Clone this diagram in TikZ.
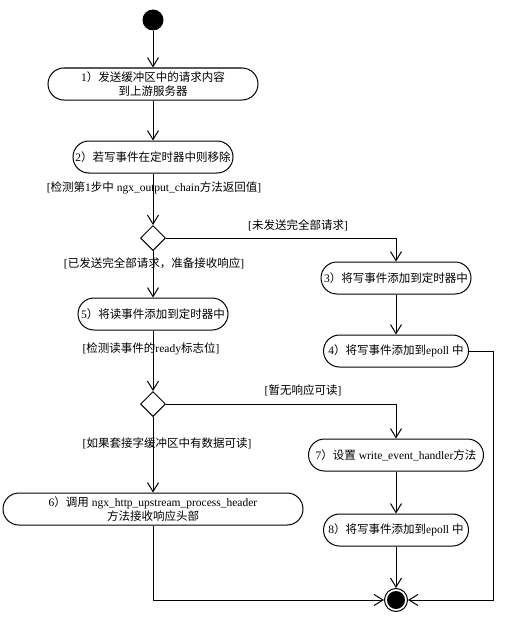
\documentclass[tikz,border=0pt]{standalone}
\usepackage{fontspec}
\setmainfont{Liberation Serif}
\newfontfamily\cjk{Noto Sans CJK SC}
\newcommand{\zh}[1]{{\cjk #1}}
\usetikzlibrary{arrows.meta,shapes.geometric}
\begin{document}
\begin{tikzpicture}[x=1pt,y=-1pt,
  txt/.style={font=\fontsize{11.5}{14}\selectfont},
  act/.style={txt, draw, line width=1pt, rounded corners=16pt, minimum height=32pt, align=center, inner sep=2pt},
  lbl/.style={txt, inner sep=0pt},
  dec/.style={draw, diamond, line width=1pt, minimum size=25pt, inner sep=0pt, shape aspect=1},
  arr/.style={-{Straight Barb[length=9pt,width=11pt,line width=1pt]}, line width=1pt},
  ln/.style={line width=1pt}
]
\useasboundingbox (0,0) rectangle (515,618);
\node[circle, fill=black, minimum size=21pt, inner sep=0pt] (s) at (153,20) {};
\node[act, minimum width=210pt] (a1) at (153,84) {1\zh{）发送缓冲区中的请求内容}\\\zh{到上游服务器}};
\node[act, minimum width=160pt] (a2) at (153,157) {2\zh{）若写事件在定时器中则移除}};
\node[dec] (d1) at (153,238) {};
\node[act, minimum width=150pt] (a3) at (396,278) {3\zh{）将写事件添加到定时器中}};
\node[act, minimum width=150pt] (a5) at (153,314) {5\zh{）将读事件添加到定时器中}};
\node[act, minimum width=145pt] (a4) at (396,351) {4\zh{）将写事件添加到}epoll \zh{中}};
\node[dec] (d2) at (153,404) {};
\node[act, minimum width=175pt] (a7) at (396,455) {7\zh{）设置} write\_event\_handler\zh{方法}};
\node[act, minimum width=300pt] (a6) at (153,509) {6\zh{）调用} ngx\_http\_upstream\_process\_header\\\zh{方法接收响应头部}};
\node[act, minimum width=145pt] (a8) at (396,530) {8\zh{）将写事件添加到}epoll \zh{中}};
\node[circle, draw, line width=1pt, fill=white, minimum size=23pt, inner sep=0pt] (e) at (396,600) {};
\node[circle, fill=black, minimum size=18pt, inner sep=0pt] (ein) at (e.center) {};
\coordinate (r4) at (493,351);

\node[lbl] (l1) at (154,188) {[\zh{检测第}1\zh{步中} ngx\_output\_chain\zh{方法返回值}]};
\node[lbl] (l2) at (298,225) {[\zh{未发送完全部请求}]};
\node[lbl] (l3) at (154,263) {[\zh{已发送完全部请求，准备接收响应}]};
\node[lbl] (l4) at (151,349) {[\zh{检测读事件的}ready\zh{标志位}]};
\node[lbl] (l5) at (303,390) {[\zh{暂无响应可读}]};
\node[lbl] (l6) at (167,443) {[\zh{如果套接字缓冲区中有数据可读}]};

\draw[arr] (s) -- (a1);
\draw[arr] (a1) -- (a2);
\draw[arr] (a2) -- (d1);
\draw[arr] (d1.east) -| (a3.north);
\draw[arr] (d1) -- (a5);
\draw[arr] (a3) -- (a4);
\draw[arr] (a4.east) -- (r4) |- (e);
\draw[arr] (a5) -- (d2);
\draw[arr] (d2.east) -| (a7.north);
\draw[arr] (d2) -- (a6);
\draw[arr] (a7) -- (a8);
\draw[arr] (a8) -- (e);
\draw[arr] (a6.south) |- (e);
\end{tikzpicture}
\end{document}
